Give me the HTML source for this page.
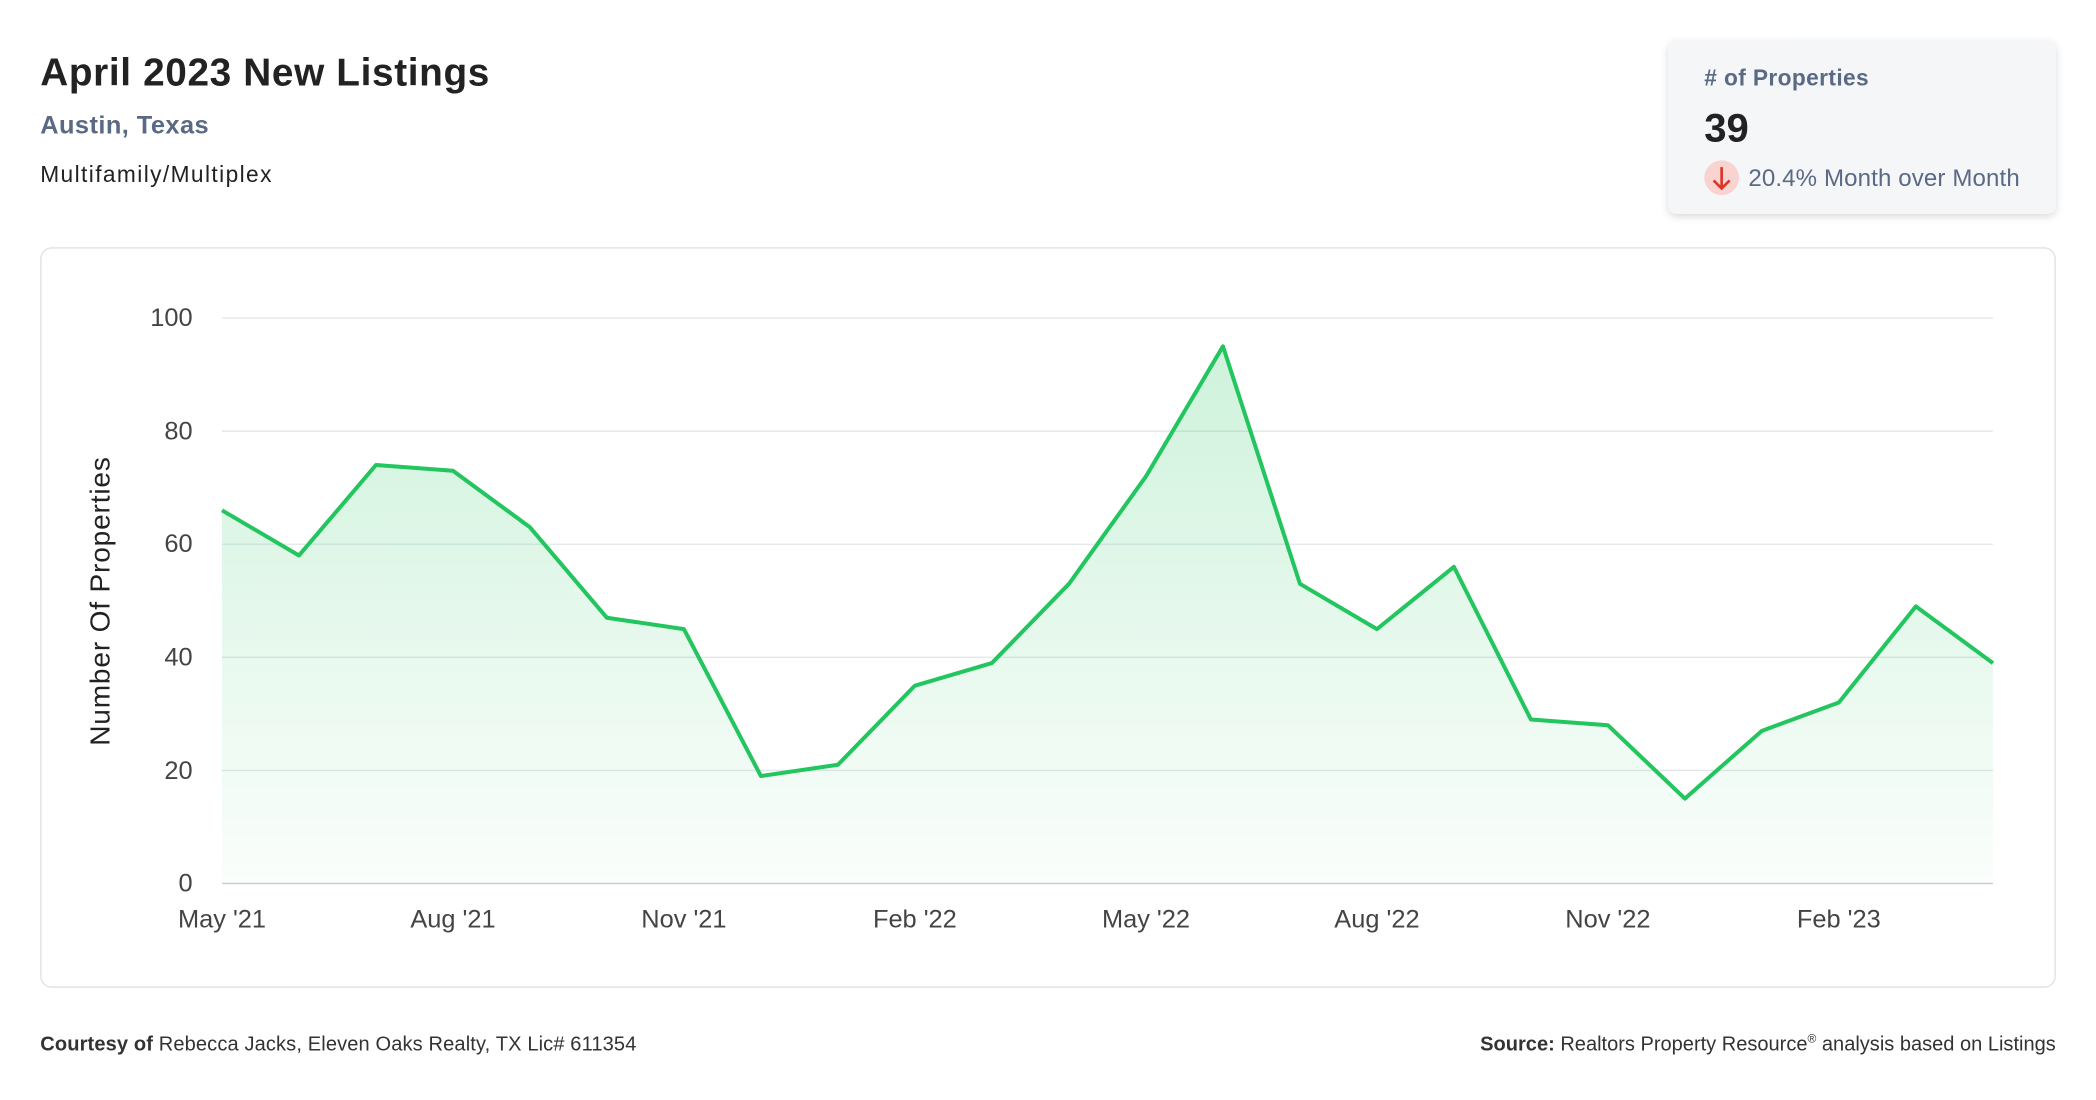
<!DOCTYPE html>
<html><head><meta charset="utf-8"><style>html,body{margin:0;padding:0;background:#fff}svg{display:block}</style></head>
<body>
<svg width="2096" height="1100" viewBox="0 0 1568 823" xmlns="http://www.w3.org/2000/svg" font-family="'Liberation Sans', sans-serif">
<defs>
<linearGradient id="g" x1="0" y1="0" x2="0" y2="1"><stop offset="0" stop-color="#22c55e" stop-opacity="0.22"/><stop offset="1" stop-color="#22c55e" stop-opacity="0.02"/></linearGradient>
<filter id="sh" x="-10%" y="-10%" width="120%" height="130%"><feDropShadow dx="0" dy="2" stdDeviation="3" flood-color="#000" flood-opacity="0.15"/></filter>
</defs>
<text x="30" y="64" font-size="29" font-weight="bold" fill="#222" textLength="336">April 2023 New Listings</text>
<text x="30" y="100" font-size="19" font-weight="bold" fill="#5a6a85" textLength="126">Austin, Texas</text>
<text x="30" y="136" font-size="17" fill="#222" textLength="173">Multifamily/Multiplex</text>
<rect x="1248" y="30" width="290" height="130" rx="6" fill="#f5f6f8" filter="url(#sh)"/>
<text x="1275" y="64" font-size="17" font-weight="bold" fill="#5a6a85" textLength="123"># of Properties</text>
<text x="1275" y="106" font-size="30" font-weight="bold" fill="#222">39</text>
<circle cx="1288" cy="133" r="13" fill="#f8d3cf"/>
<path d="M1288 125 V141 M1282 135 L1288 141 L1294 135" stroke="#d9382c" stroke-width="2" fill="none"/>
<text x="1308" y="139" font-size="18" fill="#5a6a85" textLength="203">20.4% Month over Month</text>
<rect x="30.5" y="185.5" width="1507" height="553" rx="8" fill="#fff" stroke="#dde1e6"/>
<g stroke="#e3e6ea" stroke-width="1">
<line x1="166" x2="1491" y1="238" y2="238"/><line x1="166" x2="1491" y1="322.6" y2="322.6"/><line x1="166" x2="1491" y1="407.2" y2="407.2"/><line x1="166" x2="1491" y1="491.8" y2="491.8"/><line x1="166" x2="1491" y1="576.4" y2="576.4"/><line x1="166" x2="1491" y1="661" y2="661" stroke="#ccc"/>
</g>
<g font-size="19" fill="#444" text-anchor="end">
<text x="144" y="244">100</text><text x="144" y="329">80</text><text x="144" y="413">60</text><text x="144" y="498">40</text><text x="144" y="583">20</text><text x="144" y="667">0</text>
</g>
<text transform="translate(82,450) rotate(-90)" font-size="21" fill="#222" text-anchor="middle" textLength="216">Number Of Properties</text>
<g font-size="19" fill="#444" text-anchor="middle">
<text x="166" y="694">May '21</text><text x="338.8" y="694">Aug '21</text><text x="511.6" y="694">Nov '21</text><text x="684.4" y="694">Feb '22</text><text x="857.3" y="694">May '22</text><text x="1030.1" y="694">Aug '22</text><text x="1202.9" y="694">Nov '22</text><text x="1375.7" y="694">Feb '23</text>
</g>
<path fill="url(#g)" d="M166 661 L166 381.8 L223.6 415.6 L281.2 347.9 L338.8 352.2 L396.4 394.5 L454 462.2 L511.6 470.7 L569.2 580.6 L626.8 572.2 L684.4 513 L742 496.1 L799.7 436.8 L857.3 356.4 L914.9 259.1 L972.5 436.8 L1030.1 470.7 L1087.7 424.1 L1145.3 538.3 L1202.9 542.6 L1260.5 597.5 L1318.1 546.8 L1375.7 525.6 L1433.3 453.7 L1491 496.1 L1491 661 Z"/>
<polyline fill="none" stroke="#22c55e" stroke-width="3" stroke-linejoin="round" points="166,381.8 223.6,415.6 281.2,347.9 338.8,352.2 396.4,394.5 454,462.2 511.6,470.7 569.2,580.6 626.8,572.2 684.4,513 742,496.1 799.7,436.8 857.3,356.4 914.9,259.1 972.5,436.8 1030.1,470.7 1087.7,424.1 1145.3,538.3 1202.9,542.6 1260.5,597.5 1318.1,546.8 1375.7,525.6 1433.3,453.7 1491,496.1"/>
<text x="30" y="786" font-size="15" fill="#333" textLength="446"><tspan font-weight="bold">Courtesy of</tspan> Rebecca Jacks, Eleven Oaks Realty, TX Lic# 611354</text>
<text x="1538" y="786" font-size="15" fill="#333" text-anchor="end"><tspan font-weight="bold">Source:</tspan> Realtors Property Resource<tspan font-size="9" dy="-6">®</tspan><tspan dy="6"> analysis based on Listings</tspan></text>
</svg>
</body></html>
